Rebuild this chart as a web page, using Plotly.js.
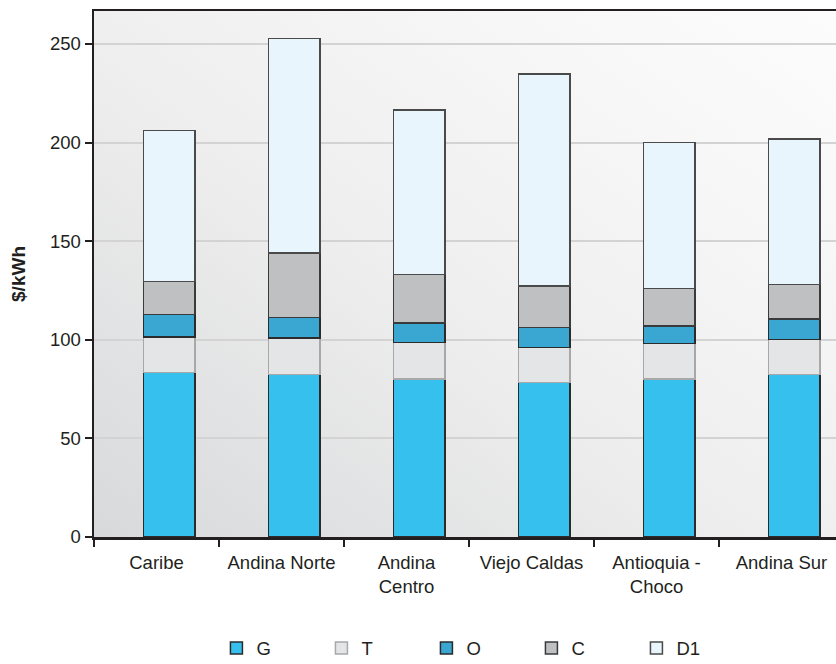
<!DOCTYPE html>
<html>
<head>
<meta charset="utf-8">
<script src="https://cdn.plot.ly/plotly-3.0.1.min.js"></script>
<style>html,body{margin:0;padding:0;background:#fff;}#chart{width:836px;height:664px;}</style>
</head>
<body>
<div id="chart"></div>
<script>
const categories = ["Caribe", "Andina Norte", "Andina<br>Centro", "Viejo Caldas", "Antioquia -<br>Choco", "Andina Sur"];
const seriesNames = ["G", "T", "O", "C", "D1"];
const G  = [83.3, 82.5, 80.0, 78.3, 80.1, 82.5];
const T  = [18.0, 18.3, 18.7, 17.7, 18.1, 17.7];
const O  = [11.6, 10.4,  9.7, 10.1,  8.8, 10.3];
const C  = [16.6, 32.8, 24.8, 21.2, 18.9, 17.6];
const D1 = [76.5, 108.7, 83.3, 107.5, 74.1, 73.7];
const yTicks = [0, 50, 100, 150, 200, 250];

const seriesValues = [G, T, O, C, D1];
const fills = ["#35c0ee", "#e4e5e6", "#3aa6d2", "#bfc0c2", "#e8f5fc"];
const lines = ["#2b2b2b", "#a8a8a8", "#2b2b2b", "#3a3a3a", "#4a4a4a"];

const traces = seriesValues.map((vals, i) => ({
  type: "bar",
  name: seriesNames[i],
  x: categories,
  y: vals,
  width: 0.41,
  offset: -0.104,
  marker: {color: fills[i], line: {color: lines[i], width: 1.5}},
  hoverinfo: "x+y+name"
}));

const bgSvg = "<svg xmlns='http://www.w3.org/2000/svg' width='100' height='100' preserveAspectRatio='none'>" +
  "<defs><linearGradient id='g' x1='0' y1='1' x2='1' y2='0'>" +
  "<stop offset='0' stop-color='#d8d9db'/><stop offset='0.45' stop-color='#eeeeee'/>" +
  "<stop offset='0.8' stop-color='#f8f8f8'/><stop offset='1' stop-color='#fcfcfc'/></linearGradient></defs>" +
  "<rect width='100' height='100' fill='url(#g)'/></svg>";
const bgSrc = "data:image/svg+xml;charset=utf-8," + encodeURIComponent(bgSvg);

const font = {family: "'Liberation Sans', Arial, sans-serif", size: 18.5, color: "#231f20"};

const layout = {
  width: 836, height: 664,
  margin: {l: 94, r: 0, t: 11, b: 127, pad: 0, autoexpand: false},
  paper_bgcolor: "#ffffff",
  plot_bgcolor: "#f1f1f1",
  font: font,
  barmode: "stack",
  showlegend: true,
  legend: {
    orientation: "h", traceorder: "normal",
    x: 0.165, xanchor: "left", y: -0.212, yanchor: "middle",
    entrywidth: 60, entrywidthmode: "pixels",
    font: font, bgcolor: "rgba(0,0,0,0)"
  },
  xaxis: {
    type: "category",
    range: [-0.5, 5.436],
    tickson: "boundaries",
    ticks: "outside", ticklen: 7, tickwidth: 2, tickcolor: "#231f20",
    ticklabelstandoff: 7,
    showline: true, linecolor: "#231f20", linewidth: 2.5, mirror: true,
    showgrid: false, zeroline: false,
    tickfont: font, automargin: false
  },
  yaxis: {
    title: {text: "<b>$/kWh</b>", font: {family: font.family, size: 19, color: "#231f20"}, standoff: 20},
    range: [0, 266.7],
    tickvals: yTicks,
    ticks: "outside", ticklen: 7, tickwidth: 2, tickcolor: "#231f20",
    ticklabelstandoff: 0,
    showline: true, linecolor: "#231f20", linewidth: 2.5,
    showgrid: true, gridcolor: "#d3d3d3", gridwidth: 2,
    zeroline: false,
    tickfont: font, automargin: false
  },
  images: [{
    source: bgSrc, xref: "paper", yref: "paper", x: 0, y: 1, sizex: 1, sizey: 1,
    xanchor: "left", yanchor: "top", sizing: "stretch", layer: "below"
  }]
};

Plotly.newPlot("chart", traces, layout, {displayModeBar: false, staticPlot: true});
</script>
</body>
</html>
